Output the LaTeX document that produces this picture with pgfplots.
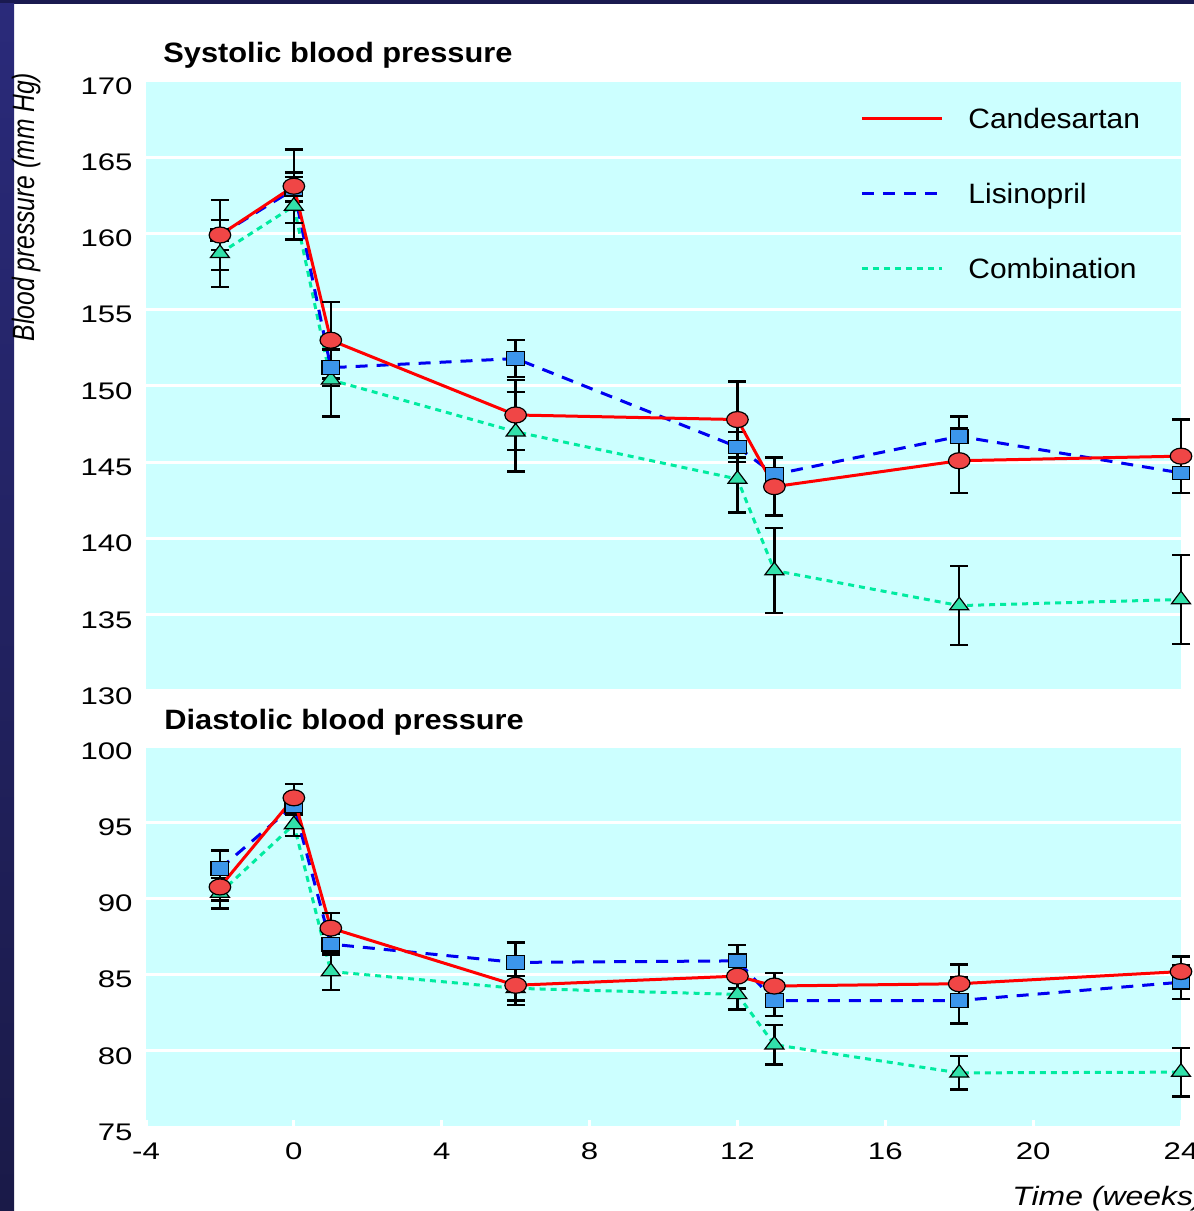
\documentclass[border=0pt]{standalone}
\usepackage{fontspec}
\setmainfont{Liberation Sans}
\newfontfamily\tickfont[FakeStretch=1.3]{Liberation Sans}
\newfontfamily\legfont[FakeStretch=1.07]{Liberation Sans}
\newfontfamily\titlefont[FakeStretch=1.1]{Liberation Sans}
\newfontfamily\xlabfont[FakeStretch=1.2]{Liberation Sans}
\newfontfamily\ylabfont[FakeStretch=0.8]{Liberation Sans}
\usepackage{pgfplots}
\usepackage{pgfplotstable}
\pgfplotsset{compat=1.18}

\definecolor{bgcyan}{RGB}{204,255,255}
\definecolor{candline}{RGB}{255,0,0}
\definecolor{candfill}{RGB}{240,70,70}
\definecolor{lisline}{RGB}{0,0,240}
\definecolor{lisfill}{RGB}{60,150,235}
\definecolor{combline}{RGB}{0,235,160}
\definecolor{combfill}{RGB}{50,225,170}
\definecolor{navy}{RGB}{26,26,80}
\definecolor{stripA}{RGB}{42,42,122}
\definecolor{stripB}{RGB}{55,55,152}
\definecolor{stripC}{RGB}{26,26,72}

% Systolic
\pgfplotstableread{
x y e
-2 159.9 2.3
0 163.1 2.4
1 153.0 2.5
6 148.1 2.3
12 147.8 2.5
13 143.4 1.9
18 145.1 2.1
24 145.4 2.4
}\sysCand
\pgfplotstableread{
x y e
-2 159.9 1.0
0 162.9 0.8
1 151.2 1.2
6 151.8 1.2
12 146.0 1.0
13 144.2 1.1
18 146.7 1.3
24 144.3 1.3
}\sysLis
\pgfplotstableread{
x y e
-2 158.7 2.2
0 161.8 2.2
1 150.4 2.4
6 147.0 2.6
12 143.9 2.2
13 137.9 2.8
18 135.6 2.6
24 136.0 2.9
}\sysComb
% Diastolic
\pgfplotstableread{
x y e
-2 90.75 0.9
0 96.6 0.9
1 88.05 1.0
6 84.3 1.3
12 84.9 0.8
13 84.25 0.85
18 84.4 1.25
24 85.2 1.0
}\diaCand
\pgfplotstableread{
x y e
-2 91.95 1.2
0 96.1 0.6
1 87.0 0.7
6 85.8 1.3
12 85.9 1.05
13 83.3 1.0
18 83.3 1.5
24 84.5 1.1
}\diaLis
\pgfplotstableread{
x y e
-2 90.35 1.0
0 94.85 0.75
1 85.2 1.2
6 84.1 0.8
12 83.7 1.0
13 80.4 1.3
18 78.55 1.1
24 78.6 1.6
}\diaComb

\pgfplotsset{
  bpbase/.style={
    scale only axis, width=517.5pt, xmin=-4, xmax=24,
    axis background/.style={fill=bgcyan},
    axis line style={draw=none},
    ymajorgrids, grid style={white, line width=1.5pt},
    ytick style={draw=none},
    ytick pos=left, xtick pos=bottom,
    /pgf/number format/assume math mode=true,
    tick label style={font=\fontsize{12}{14}\tickfont},
    yticklabel style={anchor=east, inner xsep=0pt, xshift=-6.5pt, yshift=-2.5pt},
    clip=false,
    legend image code/.code={\draw[##1] (0pt,0pt) -- (40pt,0pt);},
  },
  errs/.style={
    error bars/y dir=both, error bars/y explicit,
    error bars/error bar style={black, line width=1.2pt, solid},
    error bars/error mark options={black, line width=1.2pt, mark size=4.5pt, solid, rotate=90},
  },
  cand/.style={candline, line width=1.5pt, mark=*, mark size=4pt,
    mark options={xscale=1.35, fill=candfill, draw=black, line width=0.6pt, solid}, errs},
  lis/.style={lisline, line width=1.5pt, dash pattern=on 6pt off 4.5pt, mark=square*, mark size=3.4pt,
    mark options={xscale=1.3, fill=lisfill, draw=black, line width=0.6pt, solid}, errs},
  comb/.style={combline, line width=1.5pt, dash pattern=on 3pt off 2.5pt, mark=triangle*, mark size=4.2pt,
    mark options={xscale=1.3, fill=combfill, draw=black, line width=0.6pt, solid}, errs},
}

\begin{document}
\begin{tikzpicture}[x=1pt,y=1pt]
\fill[navy] (0,0) rectangle (597,605.5);
\fill[white] (7,0) rectangle (597,603.5);
\shade[top color=stripA, middle color=stripB, bottom color=stripC] (0,0) rectangle (7,603.5);

\begin{axis}[bpbase,
  at={(73pt,260pt)}, anchor=south west, height=305pt,
  ymin=130, ymax=170, ytick={130,135,...,170},
  xtick=\empty,
  title={Systolic blood pressure},
  title style={at={(axis description cs:0.0164,1.031)}, anchor=base west, inner sep=0pt, yshift=-6pt,
    font=\fontsize{14}{16}\titlefont\bfseries},
  ylabel={Blood pressure (mm Hg)},
  ylabel style={at={(axis description cs:-0.1159,0.7934)}, anchor=center, inner sep=0pt,
    font=\fontsize{15.4}{17}\ylabfont\itshape},
  legend style={at={(axis description cs:0.6899,0.9623)}, anchor=north west,
    draw=none, fill=none, inner sep=0pt, row sep=23.5pt, column sep=12.5pt,
    font=\fontsize{14}{16}\legfont,
    nodes={inner sep=0pt, text height=12pt, text depth=2pt}},
  legend cell align=left,
]
\addlegendimage{candline, line width=1.5pt}
\addlegendentry{Candesartan}
\addlegendimage{lisline, line width=1.5pt, dash pattern=on 6pt off 4.5pt}
\addlegendentry{Lisinopril}
\addlegendimage{combline, line width=1.5pt, dash pattern=on 3pt off 2.5pt}
\addlegendentry{Combination}
\addplot[comb, forget plot] table[x=x, y=y, y error=e] {\sysComb};
\addplot[lis, forget plot] table[x=x, y=y, y error=e] {\sysLis};
\addplot[cand, forget plot] table[x=x, y=y, y error=e] {\sysCand};
\end{axis}

\begin{axis}[bpbase,
  at={(73pt,42pt)}, anchor=south west, height=190.5pt,
  ymin=75, ymax=100, ytick={75,80,...,100},
  xtick={-4,0,...,24},
  xtick style={white, line width=1.5pt}, tick align=inside, major tick length=3.5pt,
  xticklabel style={anchor=north, inner ysep=0pt, yshift=-7.75pt},
  title={Diastolic blood pressure},
  title style={at={(axis description cs:0.0174,1.0446)}, anchor=base west, inner sep=0pt, yshift=-6pt,
    font=\fontsize{14}{16}\titlefont\bfseries},
  xlabel={Time (weeks)},
  xlabel style={at={(axis description cs:0.8367,-0.2073)}, anchor=base west, inner sep=0pt,
    font=\fontsize{13.3}{15}\xlabfont\itshape},
]
\addplot[comb] table[x=x, y=y, y error=e] {\diaComb};
\addplot[lis] table[x=x, y=y, y error=e] {\diaLis};
\addplot[cand] table[x=x, y=y, y error=e] {\diaCand};
\end{axis}

\pgfresetboundingbox
\useasboundingbox (0,0) rectangle (597,605.5);
\end{tikzpicture}
\end{document}
